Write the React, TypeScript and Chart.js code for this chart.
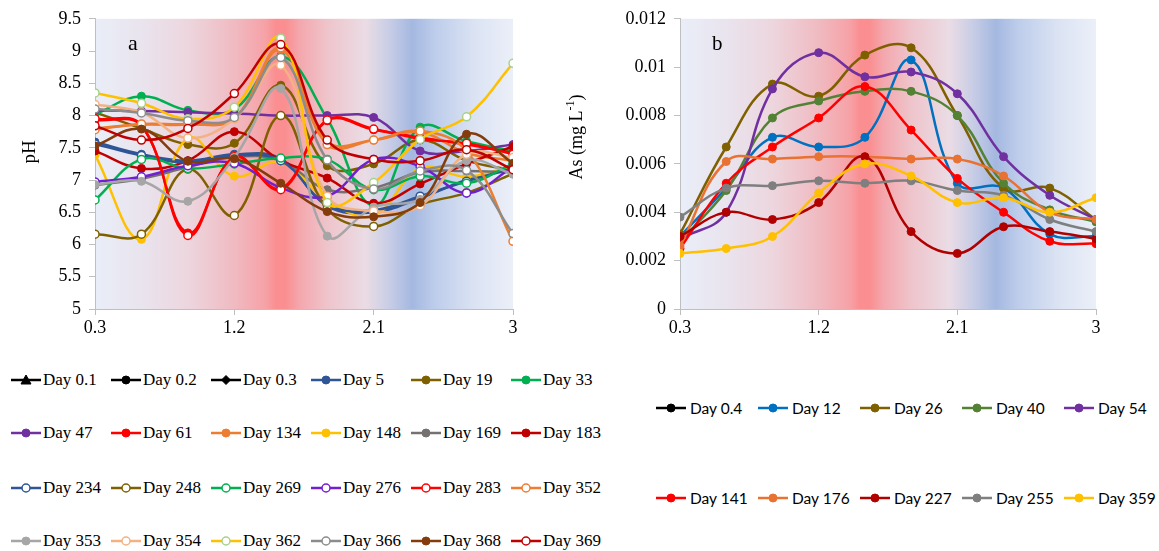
import React, { useEffect, useRef } from "react";
import { Chart, registerables } from "chart.js";
Chart.register(...registerables);

// ---------- shared x positions ----------
const xValues = [0.3, 0.6, 0.9, 1.2, 1.5, 1.8, 2.1, 2.4, 2.7, 3.0];
const xTicks = [0.3, 1.2, 2.1, 3];
const pHTicks = [5, 5.5, 6, 6.5, 7, 7.5, 8, 8.5, 9, 9.5];
const asTicks = [0, 0.002, 0.004, 0.006, 0.008, 0.01, 0.012];

// ---------- panel a: pH ----------
const day0_1: number[] = [];
const day0_2: number[] = [];
const day0_3: number[] = [];
const day5 = [7.59, 7.4, 7.3, 7.4, 7.33, 6.6, 6.5, 6.72, 7.0, 7.2];
const day19 = [8.05, 7.8, 7.55, 7.57, 8.47, 7.22, 7.25, 7.62, 7.3, 7.15];
const day33 = [8.02, 8.3, 8.08, 8.1, 8.92, 7.95, 6.6, 7.82, 7.6, 7.45];
const day47 = [8.08, 8.07, 8.05, 8.03, 8.0, 8.0, 7.97, 7.45, 7.45, 7.55];
const day61 = [7.93, 7.84, 6.18, 7.35, 6.87, 7.92, 7.78, 7.66, 7.55, 7.42];
const day134 = [7.8, 7.86, 7.86, 7.95, 9.02, 7.6, 7.62, 7.74, 7.42, 7.3];
const day148 = [7.39, 6.08, 7.65, 7.06, 7.28, 6.68, 6.45, 7.18, 7.05, 7.22];
const day169 = [6.92, 7.02, 7.2, 7.36, 7.3, 6.85, 6.88, 7.12, 7.14, 7.12];
const day183 = [7.45, 7.18, 7.3, 7.75, 7.3, 7.03, 6.64, 6.94, 7.25, 7.52];
const day234 = [7.56, 7.38, 7.27, 7.38, 7.3, 6.62, 6.53, 6.75, 6.98, 7.18];
const day248 = [6.16, 6.16, 7.17, 6.45, 8.0, 6.55, 6.28, 6.62, 6.8, 7.1];
const day269 = [6.69, 7.32, 7.18, 7.25, 7.34, 7.32, 6.85, 7.06, 6.95, 7.25];
const day276 = [6.97, 7.05, 7.22, 7.26, 6.88, 6.75, 7.32, 7.21, 6.8, 7.2];
const day283 = [7.95, 7.85, 6.14, 7.36, 6.85, 7.93, 7.79, 7.64, 7.57, 7.4];
const day352 = [7.78, 7.87, 7.87, 7.96, 9.05, 7.55, 7.62, 7.76, 7.45, 6.05];
const day353 = [6.93, 6.98, 6.67, 7.35, 8.42, 6.13, 6.58, 6.7, 7.3, 7.09];
const day354 = [8.17, 8.05, 7.65, 7.95, 8.78, 6.75, 6.52, 6.6, 7.4, 7.35];
const day362 = [8.35, 8.19, 7.95, 8.13, 9.2, 6.65, 6.96, 7.63, 7.98, 8.81];
const day366 = [8.1, 8.04, 7.92, 7.97, 8.9, 7.31, 6.86, 7.14, 7.15, 6.17];
const day368 = [7.53, 7.79, 7.29, 7.33, 6.95, 6.51, 6.43, 6.65, 7.71, 7.26];
const day369 = [7.84, 7.62, 7.8, 8.34, 9.1, 7.62, 7.32, 7.3, 7.47, 7.16];

// ---------- panel b: As (mg/L) ----------
const as0_4: number[] = [];
const as12 = [0.003, 0.005, 0.0071, 0.0067, 0.0071, 0.0103, 0.0052, 0.005, 0.0031, 0.003];
const as26 = [0.0031, 0.0067, 0.0093, 0.0088, 0.0105, 0.0108, 0.008, 0.005, 0.005, 0.0037];
const as40 = [0.0028, 0.0049, 0.0079, 0.0086, 0.009, 0.009, 0.008, 0.0052, 0.0041, 0.0036];
const as54 = [0.0029, 0.004, 0.0091, 0.0106, 0.0096, 0.0098, 0.0089, 0.0063, 0.0047, 0.0037];
const as141 = [0.0025, 0.0052, 0.0067, 0.0079, 0.0092, 0.0074, 0.0054, 0.004, 0.0028, 0.0027];
const as176 = [0.0026, 0.0061, 0.0062, 0.0063, 0.0063, 0.0062, 0.0062, 0.0055, 0.004, 0.0037];
const as227 = [0.003, 0.004, 0.0037, 0.0044, 0.0063, 0.0032, 0.0023, 0.0034, 0.0032, 0.0029];
const as255 = [0.0038, 0.005, 0.0051, 0.0053, 0.0052, 0.0053, 0.0049, 0.0047, 0.0037, 0.0032];
const as359 = [0.0023, 0.0025, 0.003, 0.0048, 0.006, 0.0055, 0.0044, 0.0046, 0.004, 0.0046];

type S = { label: string; data: number[]; color: string; marker?: string; open?: boolean; shape?: string };

const leftSeries: S[] = [
  { label: "Day 0.1", data: day0_1, color: "#000000", shape: "triangle" },
  { label: "Day 0.2", data: day0_2, color: "#000000" },
  { label: "Day 0.3", data: day0_3, color: "#000000", shape: "rectRot" },
  { label: "Day 5", data: day5, color: "#2F5597" },
  { label: "Day 19", data: day19, color: "#7F6000" },
  { label: "Day 33", data: day33, color: "#00B050" },
  { label: "Day 47", data: day47, color: "#7030A0" },
  { label: "Day 61", data: day61, color: "#FF0000" },
  { label: "Day 134", data: day134, color: "#ED7D31" },
  { label: "Day 148", data: day148, color: "#FFC000" },
  { label: "Day 169", data: day169, color: "#767171" },
  { label: "Day 183", data: day183, color: "#C00000" },
  { label: "Day 234", data: day234, color: "#2F5597", open: true },
  { label: "Day 248", data: day248, color: "#7F6000", open: true },
  { label: "Day 269", data: day269, color: "#00B050", open: true },
  { label: "Day 276", data: day276, color: "#7020D0", open: true },
  { label: "Day 283", data: day283, color: "#FF0000", open: true },
  { label: "Day 352", data: day352, color: "#ED7D31", open: true },
  { label: "Day 353", data: day353, color: "#A6A6A6" },
  { label: "Day 354", data: day354, color: "#F4B183", open: true },
  { label: "Day 362", data: day362, color: "#FFC000", marker: "#A9D18E", open: true },
  { label: "Day 366", data: day366, color: "#8C8C8C", open: true },
  { label: "Day 368", data: day368, color: "#843C0C" },
  { label: "Day 369", data: day369, color: "#C00000", open: true },
];

const rightSeries: S[] = [
  { label: "Day 0.4", data: as0_4, color: "#000000" },
  { label: "Day 12", data: as12, color: "#0070C0" },
  { label: "Day 26", data: as26, color: "#7F6000" },
  { label: "Day 40", data: as40, color: "#548235" },
  { label: "Day 54", data: as54, color: "#7030A0" },
  { label: "Day 141", data: as141, color: "#FF0000" },
  { label: "Day 176", data: as176, color: "#E97132" },
  { label: "Day 227", data: as227, color: "#B00000" },
  { label: "Day 255", data: as255, color: "#7F7F7F" },
  { label: "Day 359", data: as359, color: "#FFC000" },
];

const bgStops: [number, string][] = [
  [0.3, "#E9EEF8"],
  [0.6, "#E9E4EE"],
  [0.9, "#EDD6DE"],
  [1.2, "#F0BAC1"],
  [1.4, "#F6A2A7"],
  [1.47, "#FA8E90"],
  [1.53, "#FA8E90"],
  [1.62, "#F4A7AD"],
  [1.8, "#EFC4CB"],
  [2.05, "#EADCE5"],
  [2.2, "#C8CDE6"],
  [2.35, "#A4B8E0"],
  [2.5, "#BECDEB"],
  [2.75, "#DBE3F3"],
  [3.0, "#EBEFF8"],
];

const bgPlugin = {
  id: "bgGrad",
  beforeDraw(chart: any) {
    const { ctx, chartArea: a, scales } = chart;
    const x = scales.x;
    const g = ctx.createLinearGradient(a.left, 0, a.right, 0);
    for (const [v, c] of bgStops) {
      const p = (x.getPixelForValue(v) - a.left) / (a.right - a.left);
      g.addColorStop(Math.min(1, Math.max(0, p)), c);
    }
    ctx.save();
    ctx.fillStyle = g;
    ctx.fillRect(a.left, a.top, a.right - a.left, a.bottom - a.top);
    ctx.restore();
  },
};

function buildDatasets(series: S[], lw: number) {
  return series.map((s, i) => ({
    label: s.label,
    data: s.data.map((y, j) => ({ x: xValues[j], y })),
    borderColor: s.color,
    backgroundColor: s.color,
    borderWidth: lw,
    tension: 0.4,
    pointStyle: s.shape ?? "circle",
    pointRadius: 4,
    pointBorderWidth: s.open ? 1.5 : 1,
    pointBackgroundColor: s.open ? "#FFFFFF" : s.marker ?? s.color,
    pointBorderColor: s.marker ?? s.color,
    order: series.length - i,
  }));
}

const SERIF = '"Liberation Serif", "Times New Roman", serif';

type ChartProps = {
  left: number;
  width: number;
  height: number;
  series: S[];
  yMin: number;
  yMax: number;
  yTicks: number[];
  yWidth: number;
  padRight: number;
  drawTexts: (ctx: CanvasRenderingContext2D) => void;
};

function LineChart(p: ChartProps) {
  const ref = useRef<HTMLCanvasElement>(null);
  useEffect(() => {
    const textPlugin = {
      id: "texts",
      afterDraw(chart: any) {
        const ctx = chart.ctx as CanvasRenderingContext2D;
        ctx.save();
        ctx.fillStyle = "#000";
        p.drawTexts(ctx);
        ctx.restore();
      },
    };
    const tickFont = { family: SERIF, size: 18 };
    const chart = new Chart(ref.current as HTMLCanvasElement, {
      type: "line",
      data: { datasets: buildDatasets(p.series, 2.5) as any },
      options: {
        responsive: false,
        animation: false,
        devicePixelRatio: 1,
        layout: { padding: { left: 0, right: p.padRight, top: 16, bottom: 0 } },
        plugins: { legend: { display: false }, tooltip: { enabled: false } },
        scales: {
          x: {
            type: "linear",
            min: 0.3,
            max: 3,
            afterBuildTicks: (s: any) => {
              s.ticks = xTicks.map((v) => ({ value: v }));
            },
            afterFit: (s: any) => {
              s.height = 36;
            },
            grid: { drawOnChartArea: false, drawTicks: true, tickLength: 6, color: "#BFBFBF" },
            border: { color: "#BFBFBF", width: 1 },
            ticks: {
              font: tickFont,
              color: "#000",
              padding: 2,
              maxRotation: 0,
              autoSkip: false,
              callback: (v: any) => String(v),
            },
          },
          y: {
            type: "linear",
            min: p.yMin,
            max: p.yMax,
            afterBuildTicks: (s: any) => {
              s.ticks = p.yTicks.map((v) => ({ value: v }));
            },
            afterFit: (s: any) => {
              s.width = p.yWidth;
            },
            grid: { drawOnChartArea: false, drawTicks: true, tickLength: 6, color: "#BFBFBF" },
            border: { color: "#BFBFBF", width: 1 },
            ticks: {
              font: tickFont,
              color: "#000",
              padding: 8,
              autoSkip: false,
              callback: (v: any) => String(v),
            },
          },
        },
      } as any,
      plugins: [bgPlugin, textPlugin],
    });
    return () => chart.destroy();
  }, []);
  return (
    <canvas
      ref={ref}
      width={p.width}
      height={p.height}
      style={{ position: "absolute", left: p.left, top: 0 }}
    />
  );
}

function Marker({ s, cx, cy }: { s: S; cx: number; cy: number }) {
  const stroke = s.marker ?? s.color;
  const fill = s.open ? "#FFFFFF" : stroke;
  const sw = s.open ? 1.5 : 1;
  if (s.shape === "triangle") {
    return <polygon points={`${cx},${cy - 5} ${cx + 5},${cy + 4} ${cx - 5},${cy + 4}`} fill={fill} stroke={stroke} strokeWidth={sw} />;
  }
  if (s.shape === "rectRot") {
    return <polygon points={`${cx},${cy - 4.5} ${cx + 4.5},${cy} ${cx},${cy + 4.5} ${cx - 4.5},${cy}`} fill={fill} stroke={stroke} strokeWidth={sw} />;
  }
  return <circle cx={cx} cy={cy} r={4} fill={fill} stroke={stroke} strokeWidth={sw} />;
}

function Legend({
  series,
  cols,
  rows,
  lineLen,
  gap,
  font,
  size,
}: {
  series: S[];
  cols: number[];
  rows: number[];
  lineLen: number;
  gap: number;
  font: string;
  size: number;
}) {
  return (
    <>
      {series.map((s, i) => {
        const c = i % cols.length;
        const r = Math.floor(i / cols.length);
        return (
          <div
            key={s.label}
            style={{
              position: "absolute",
              left: cols[c],
              top: rows[r] - 12,
              height: 24,
              display: "flex",
              alignItems: "center",
              fontFamily: font,
              fontSize: size,
              color: "#000",
              whiteSpace: "nowrap",
            }}
          >
            <svg width={lineLen} height={24} style={{ display: "block" }}>
              <line x1={0} y1={12} x2={lineLen} y2={12} stroke={s.color} strokeWidth={2.5} />
              <Marker s={s} cx={lineLen / 2} cy={12} />
            </svg>
            <span style={{ marginLeft: gap }}>{s.label}</span>
          </div>
        );
      })}
    </>
  );
}

export default function App() {
  const drawLeftTexts = (ctx: CanvasRenderingContext2D) => {
    ctx.font = `22px ${SERIF}`;
    ctx.textBaseline = "alphabetic";
    ctx.textAlign = "left";
    ctx.fillText("a", 128, 50);
    ctx.translate(30, 152);
    ctx.rotate(-Math.PI / 2);
    ctx.font = `19px ${SERIF}`;
    ctx.textAlign = "center";
    ctx.textBaseline = "middle";
    ctx.fillText("pH", 0, 0);
  };
  const drawRightTexts = (ctx: CanvasRenderingContext2D) => {
    ctx.font = `21px ${SERIF}`;
    ctx.textBaseline = "alphabetic";
    ctx.textAlign = "left";
    ctx.fillText("b", 152, 50);
    ctx.translate(17, 137);
    ctx.rotate(-Math.PI / 2);
    ctx.textBaseline = "middle";
    const big = `18px ${SERIF}`;
    const small = `12px ${SERIF}`;
    ctx.font = big;
    const w1 = ctx.measureText("As (mg L").width;
    const w3 = ctx.measureText(")").width;
    ctx.font = small;
    const w2 = ctx.measureText("-1").width;
    let x = -(w1 + w2 + w3) / 2;
    ctx.font = big;
    ctx.fillText("As (mg L", x, 0);
    x += w1;
    ctx.font = small;
    ctx.fillText("-1", x, -6);
    x += w2;
    ctx.font = big;
    ctx.fillText(")", x, 0);
  };
  return (
    <div
      style={{
        position: "absolute",
        left: 0,
        top: 0,
        width: 1159,
        height: 551,
        background: "#FFFFFF",
        overflow: "hidden",
      }}
    >
      <LineChart
        left={0}
        width={560}
        height={345}
        series={leftSeries}
        yMin={5}
        yMax={9.5}
        yTicks={pHTicks}
        yWidth={95}
        padRight={47}
        drawTexts={drawLeftTexts}
      />
      <LineChart
        left={560}
        width={599}
        height={345}
        series={rightSeries}
        yMin={0}
        yMax={0.012}
        yTicks={asTicks}
        yWidth={120}
        padRight={63}
        drawTexts={drawRightTexts}
      />
      <Legend
        series={leftSeries}
        cols={[11, 111, 211, 311, 411, 511]}
        rows={[380, 433, 488, 541]}
        lineLen={30}
        gap={2}
        font={SERIF}
        size={17}
      />
      <Legend
        series={rightSeries}
        cols={[656, 758, 860, 962, 1064]}
        rows={[408, 498]}
        lineLen={30}
        gap={4}
        font={'Lato, "Open Sans", sans-serif'}
        size={15.5}
      />
    </div>
  );
}
